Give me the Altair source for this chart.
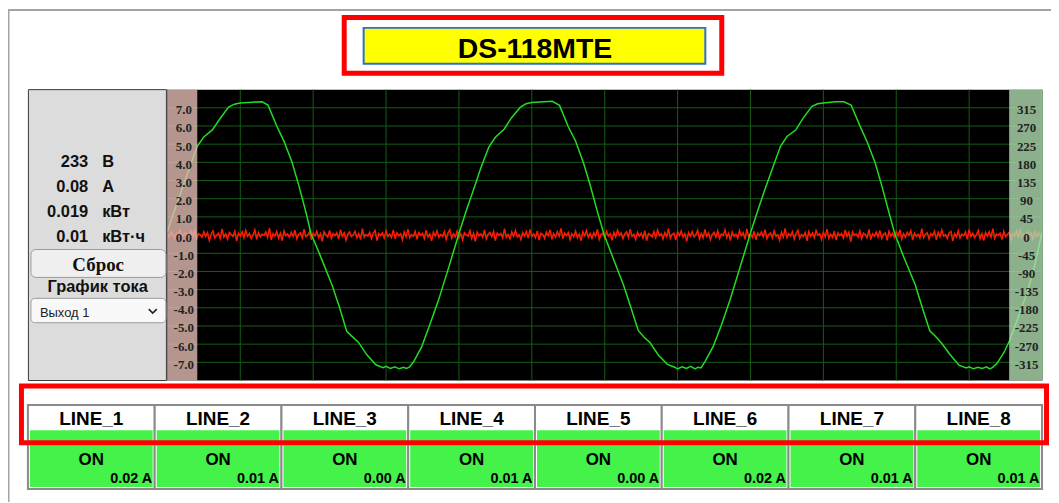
import altair as alt
import pandas as pd

# ---------------- data ----------------
TITLE = "DS-118MTE"
readings_val = ["233", "0.08", "0.019", "0.01"]
readings_unit = ["В", "А", "кВт", "кВт·ч"]
lines = ["LINE_1", "LINE_2", "LINE_3", "LINE_4", "LINE_5", "LINE_6", "LINE_7", "LINE_8"]
line_state = ["ON", "ON", "ON", "ON", "ON", "ON", "ON", "ON"]
line_amp = ["0.02 A", "0.01 A", "0.00 A", "0.01 A", "0.00 A", "0.02 A", "0.01 A", "0.01 A"]

cur_ticks = [-7, -6, -5, -4, -3, -2, -1, 0, 1, 2, 3, 4, 5, 6, 7]
volt_ticks = [-315, -270, -225, -180, -135, -90, -45, 0, 45, 90, 135, 180, 225, 270, 315]
grid_t = [0, 5, 10, 15, 20, 25, 30, 35, 40, 45, 50, 55, 60]
grid_i = [-7, -6, -5, -4, -3, -2, -1, 0, 1, 2, 3, 4, 5, 6, 7]

# voltage waveform (ms, V), one list pair per period
p1_t = [0.0, 0.5, 1.0, 1.5, 2.05, 2.5, 3.1, 3.6, 4.2, 4.6, 5.0, 5.8, 6.5, 6.9, 7.5, 8.0, 8.55, 9.0, 9.5, 9.85,
        10.5, 11.3, 11.8, 12.3, 12.7, 13.1, 13.7, 14.3, 14.8, 15.0, 15.3, 15.6, 15.9, 16.2, 16.4, 16.6, 16.9,
        17.45, 18.0, 18.6, 19.3]
p1_v = [9, 62, 113, 165, 220, 243, 261, 288, 317, 324, 327, 329, 330, 322, 270, 232, 180, 125, 57, 4,
        -52, -124, -178, -238, -252, -265, -297, -321, -328, -325, -330, -326, -331, -327, -330, -327, -313,
        -276, -222, -161, -80]
p2_t = [20.0, 20.5, 21.0, 21.5, 22.05, 22.5, 23.1, 23.6, 24.2, 24.6, 25.0, 25.8, 26.4, 26.9, 27.5, 28.0, 28.55,
        29.0, 29.5, 29.95, 30.5, 31.3, 31.8, 32.3, 32.7, 33.1, 33.7, 34.3, 34.8, 35.0, 35.3, 35.6, 35.9, 36.2,
        36.4, 36.6, 36.9, 37.45, 38.0, 38.6, 39.3]
p2_v = [4, 60, 112, 166, 218, 242, 262, 290, 316, 325, 328, 330, 331, 321, 268, 233, 178, 124, 58, 2,
        -50, -125, -180, -236, -253, -266, -298, -320, -327, -331, -326, -330, -325, -331, -327, -329, -312,
        -275, -223, -160, -78]
p3_t = [40.0, 40.5, 41.0, 41.5, 42.05, 42.5, 43.1, 43.6, 44.2, 44.6, 45.0, 45.8, 46.4, 46.9, 47.5, 48.0, 48.55,
        49.0, 49.5, 49.9, 50.5, 51.3, 51.8, 52.3, 52.7, 53.1, 53.7, 54.3, 54.8, 55.0, 55.3, 55.6, 55.9, 56.2,
        56.4, 56.6, 56.9, 57.4, 57.8, 58.4, 59.0, 59.5, 60.0]
p3_v = [5, 61, 114, 164, 219, 244, 260, 289, 318, 325, 327, 330, 330, 322, 271, 231, 179, 123, 56, 3,
        -53, -123, -181, -237, -251, -267, -296, -322, -329, -326, -331, -327, -330, -326, -331, -328,
        -318, -290, -259, -200, -140, -75, 8]

# current samples (A), every 0.125 ms
cur_1 = [0.04, -0.10, 0.16, 0.02, -0.21, 0.09, -0.05, 0.27, -0.14, 0.06,
         0.11, -0.18, -0.03, 0.22, -0.09, 0.31, -0.25, 0.08, 0.01, -0.12,
         0.19, -0.07, 0.13, -0.29, 0.05, 0.24, -0.16, -0.02, 0.10, -0.20,
         0.34, -0.11, 0.07, -0.23, 0.15, 0.03, -0.08, 0.21, -0.33, 0.12,
         -0.04, 0.18, -0.15, 0.26, -0.06, 0.09, -0.19, 0.02, 0.29, -0.24,
         0.14, -0.10, 0.05, -0.02, 0.17, -0.13, 0.38, -0.27, 0.08, -0.06,
         0.20, -0.17, 0.11, -0.31, 0.23, -0.03, 0.06, -0.12, 0.15, -0.08,
         0.27, -0.21, 0.04, 0.13, -0.16, 0.32, -0.09, -0.01, 0.18, -0.26]
cur_2 = [0.10, -0.05, 0.22, -0.14, 0.07, -0.35, 0.19, 0.02, -0.11, 0.25,
         -0.18, 0.09, -0.03, 0.14, -0.22, 0.30, -0.07, 0.12, -0.28, 0.05,
         0.17, -0.09, 0.01, 0.21, -0.16, 0.08, -0.25, 0.36, -0.12, 0.04,
         -0.06, 0.15, -0.20, 0.11, 0.26, -0.30, 0.09, -0.02, 0.13, -0.17,
         0.23, -0.08, 0.05, -0.14, 0.29, -0.21, 0.12, -0.04, 0.07, -0.26,
         0.18, -0.10, 0.33, -0.15, 0.02, -0.07, 0.20, -0.23, 0.14, -0.01,
         0.09, -0.19, 0.27, -0.11, 0.06, -0.32, 0.16, -0.05, 0.24, -0.13,
         0.03, -0.08, 0.19, -0.24, 0.11, 0.30, -0.18, 0.06, -0.10, 0.22]
cur_3 = [-0.15, 0.08, -0.27, 0.13, 0.01, -0.06, 0.25, -0.19, 0.10, -0.34,
         0.17, -0.04, 0.07, -0.12, 0.28, -0.22, 0.05, 0.15, -0.09, 0.21,
         -0.30, 0.12, -0.02, 0.09, -0.16, 0.35, -0.13, 0.04, -0.21, 0.18,
         -0.07, 0.26, -0.11, 0.02, -0.25, 0.14, -0.05, 0.20, -0.17, 0.31,
         -0.08, 0.06, -0.14, 0.23, -0.28, 0.10, 0.03, -0.19, 0.16, -0.04,
         0.29, -0.23, 0.08, -0.12, 0.19, -0.06, 0.37, -0.20, 0.11, -0.02,
         0.14, -0.26, 0.07, -0.09, 0.22, -0.15, 0.05, -0.31, 0.18, -0.03,
         0.25, -0.12, 0.09, -0.18, 0.13, -0.07, 0.32, -0.24, 0.04, 0.11]
cur_4 = [-0.16, 0.21, -0.05, 0.08, -0.29, 0.15, -0.10, 0.27, -0.02, 0.12,
         -0.20, 0.06, 0.18, -0.13, 0.33, -0.08, 0.03, -0.24, 0.16, -0.06,
         0.10, -0.17, 0.24, -0.31, 0.09, 0.01, -0.11, 0.20, -0.14, 0.28,
         -0.04, 0.07, -0.22, 0.13, -0.09, 0.36, -0.18, 0.05, 0.11, -0.27,
         0.17, -0.03, 0.22, -0.12, 0.08, -0.35, 0.14, -0.06, 0.19, -0.10,
         0.02, 0.26, -0.21, 0.09, -0.15, 0.31, -0.07, 0.12, -0.25, 0.04,
         0.16, -0.11, 0.23, -0.19, 0.06, -0.02, 0.29, -0.14, 0.10, -0.30,
         0.18, -0.08, 0.05, -0.17, 0.25, -0.04, 0.13, -0.23, 0.34, -0.09]
cur_5 = [0.07, -0.13, 0.21, -0.26, 0.11, -0.03, 0.17, -0.09, 0.30, -0.20,
         0.04, 0.12, -0.16, 0.24, -0.07, 0.02, -0.28, 0.15, -0.11, 0.37,
         -0.14, 0.08, -0.05, 0.19, -0.22, 0.10, 0.27, -0.18, 0.03, -0.09,
         0.14, -0.32, 0.20, -0.06, 0.11, -0.15, 0.25, -0.01, 0.08, -0.24,
         0.16, -0.10, 0.33, -0.19, 0.05, -0.13, 0.22, -0.27, 0.12, -0.04,
         0.09, -0.17, 0.28, -0.08, 0.15, -0.36, 0.18, -0.02, 0.06, -0.12,
         0.23, -0.20, 0.10, 0.03, -0.15, 0.31, -0.25, 0.07, -0.06, 0.17,
         -0.11, 0.26, -0.18, 0.04, 0.12, -0.29, 0.21, -0.07, 0.09, -0.14]
cur_6 = [0.19, -0.05, 0.30, -0.22, 0.08, -0.12, 0.16, -0.01, 0.25, -0.28,
         0.11, -0.08, 0.04, -0.17, 0.35, -0.14, 0.06, 0.13, -0.21, 0.09,
         -0.03, 0.22, -0.26, 0.15, -0.10, 0.28, -0.06, 0.02, -0.19, 0.12,
         0.20, -0.33, 0.07, -0.11, 0.24, -0.16, 0.05, -0.04, 0.17, -0.23,
         0.31, -0.09, 0.10, -0.15, 0.03, 0.26, -0.20, 0.08, -0.30, 0.14,
         -0.07, 0.19, -0.12, 0.36, -0.18, 0.06, -0.02, 0.11, -0.25, 0.21,
         -0.10, 0.04, 0.15, -0.27, 0.09, -0.05, 0.23, -0.16, 0.32, -0.13,
         0.07, -0.22, 0.18, -0.04, 0.12, -0.29, 0.25, -0.09, 0.14, -0.06,
         0.03]
SAMPLE_MS = 0.125

# ---------------- layout / style ----------------
SANS = "Liberation Sans"
SERIF = "Liberation Serif"
OX, OY = 168, 89          # page position of the plot area
PW, PH = 878, 292         # plot area size

def X(p):
    return alt.value(p - OX)

def Y(p):
    return alt.value(p - OY)

one = pd.DataFrame({"k": [0]})

def box(x0, y0, x1, y1, **mk):
    return alt.Chart(one).mark_rect(**mk).encode(x=X(x0), x2=X(x1), y=Y(y0), y2=Y(y1))

def label(text, x, y, **mk):
    return alt.Chart(one).mark_text(text=text, **mk).encode(x=X(x), y=Y(y))

tscale = alt.Scale(domain=[0, 60], nice=False, zero=False)
iscale = alt.Scale(domain=[-8, 8], nice=False, zero=False)
vscale = alt.Scale(domain=[-360, 360], nice=False, zero=False)

ax_common = dict(domain=False, ticks=False, tickSize=0, grid=False, title=None,
                 labelFont=SERIF, labelFontWeight="bold", labelFontSize=13, labelColor="#222222",
                 labelAlign="center", labelBaseline="middle", labelOffset=2, labelPadding=0,
                 offset=-16, zindex=1, labelOverlap=False, labelFlush=False)

volt_df = pd.DataFrame({"t": p1_t + p2_t + p3_t, "v": p1_v + p2_v + p3_v})
cur_all = cur_1 + cur_2 + cur_3 + cur_4 + cur_5 + cur_6
cur_df = pd.DataFrame({"t": [k * SAMPLE_MS for k in range(len(cur_all))], "i": cur_all})

GRID = "#165c16"
vgrid = alt.Chart(pd.DataFrame({"t": grid_t})).mark_rule(color=GRID, strokeWidth=1).encode(
    x=alt.X("t:Q", scale=tscale, axis=None))
hgrid = alt.Chart(pd.DataFrame({"g": grid_i})).mark_rule(color=GRID, strokeWidth=1).encode(
    y=alt.Y("g:Q", scale=iscale, axis=None))

red = alt.Chart(cur_df).mark_line(color="#ff1a00", strokeWidth=1.5, clip=True).encode(
    x=alt.X("t:Q", scale=tscale, axis=None),
    y=alt.Y("i:Q", scale=iscale,
            axis=alt.Axis(orient="left", values=cur_ticks, labelExpr="datum.value + '.0'", **ax_common)))
green = alt.Chart(volt_df).mark_line(color="#22dd22", strokeWidth=1.5, clip=True).encode(
    x=alt.X("t:Q", scale=tscale, axis=None),
    y=alt.Y("v:Q", scale=vscale,
            axis=alt.Axis(orient="right", values=volt_ticks, labelExpr="'' + datum.value", **ax_common)))

lstrip = box(168, 89, 198, 381, fill="#e1bcb2", opacity=0.8)
rstrip = box(1013, 89, 1046, 381, fill="#afdbaf", opacity=0.8)

# outer frame
frame_top = box(8, 8, 1059, 10, fill="#a3a3a3")
frame_left = box(8, 8, 9.5, 503, fill="#a3a3a3")

# title
title_red = box(345.5, 16.5, 724.5, 72.5, fill="white", stroke="#ff0000", strokeWidth=5)
title_yel = box(365, 27, 708, 63, fill="#ffff00", stroke="#2a6fd6", strokeWidth=2)
title_txt = label(TITLE, 537, 57, font=SANS, fontSize=28.5, fontWeight="bold", align="center",
                  baseline="alphabetic", color="#000000")

# left panel
panel = box(28.5, 89, 167, 381, fill="#dcdcdc", stroke="#3a3a3a", strokeWidth=1)
rd = pd.DataFrame({"val": readings_val, "unit": readings_unit})
ry = alt.Y("unit:N", scale=alt.Scale(type="point", domain=readings_unit,
                                     range=[166.7 - OY, 241.7 - OY], padding=0), axis=None)
r_vals = alt.Chart(rd).mark_text(align="right", baseline="alphabetic", font=SANS, fontWeight="bold",
                                 fontSize=16.5, color="#111111").encode(x=X(88.5), y=ry, text="val:N")
r_units = alt.Chart(rd).mark_text(align="left", baseline="alphabetic", font=SANS, fontWeight="bold",
                                  fontSize=16.5, color="#111111").encode(x=X(102.5), y=ry, text="unit:N")
btn = box(31, 249.5, 166.5, 277.5, fill="#efefef", stroke="#9c9c9c", strokeWidth=1, cornerRadius=5)
btn_txt = label("Сброс", 98.5, 271, font=SERIF, fontSize=19, fontWeight="bold", align="center",
                baseline="alphabetic", color="#111111")
graf_txt = label("График тока", 98, 292.3, font=SANS, fontSize=16.5, fontWeight="bold", align="center",
                 baseline="alphabetic", color="#111111")
sel = box(31, 298.5, 166.5, 323, fill="#f8f8f8", stroke="#9c9c9c", strokeWidth=1, cornerRadius=4)
sel_txt = label("Выход 1", 40, 317, font=SANS, fontSize=13, align="left", baseline="alphabetic",
                color="#222222")
chev = alt.Chart(one).mark_point(shape="M-1,-0.5L0,0.5L1,-0.5", size=64, filled=False, color="#222222",
                                 strokeWidth=1.6, opacity=1).encode(x=X(153.3), y=Y(311.3))

# line table
tb = pd.DataFrame({"line": lines, "state": line_state, "amp": line_amp})
step = (1046 - 28) / len(lines)
lx_full = alt.X("line:N", scale=alt.Scale(type="band", domain=lines, range=[28 - OX, 1046 - OX],
                                          paddingInner=0, paddingOuter=0), axis=None)
lx_in = alt.X("line:N", scale=alt.Scale(type="band", domain=lines, range=[28 - OX, 1046 - OX],
                                        paddingInner=4 / step, paddingOuter=2 / step), axis=None)
cells = alt.Chart(tb).mark_rect(fill="white", stroke="#8a8a8a", strokeWidth=2).encode(
    x=lx_full, y=Y(405.5), y2=Y(490))
greens = alt.Chart(tb).mark_rect(fill="#44f24a").encode(x=lx_in, y=Y(431), y2=Y(488))
t_line = alt.Chart(tb).mark_text(font=SANS, fontSize=19, fontWeight="bold", align="center",
                                 baseline="alphabetic", color="#000000").encode(
    x=lx_full, y=Y(425.7), text="line:N")
t_state = alt.Chart(tb).mark_text(font=SANS, fontSize=17, fontWeight="bold", align="center",
                                  baseline="alphabetic", color="#000000").encode(
    x=lx_full, y=Y(466), text="state:N")
t_amp = alt.Chart(tb).mark_text(font=SANS, fontSize=14.5, fontWeight="bold", align="right",
                                baseline="alphabetic", color="#000000", dx=step / 2 - 2.5).encode(
    x=lx_full, y=Y(484), text="amp:N")
table_red = box(21.5, 386.5, 1050.5, 443.5, fill="transparent", stroke="#ff0000", strokeWidth=5)

chart = alt.layer(
    vgrid, hgrid, red, green, lstrip, rstrip,
    frame_top, frame_left, title_red, title_yel, title_txt,
    panel, r_vals, r_units, btn, btn_txt, graf_txt, sel, sel_txt, chev,
    cells, greens, t_line, t_state, t_amp, table_red,
).resolve_scale(x="independent", y="independent").properties(
    width=PW, height=PH,
    padding={"left": OX - 8, "top": OY - 8, "right": 1055 - (OX + PW), "bottom": 503 - (OY + PH)},
    autosize=alt.AutoSizeParams(type="none"),
    background="white",
).configure_view(fill="black", strokeWidth=0)

chart.save("out.html", embed_options={"renderer": "svg", "actions": False})
